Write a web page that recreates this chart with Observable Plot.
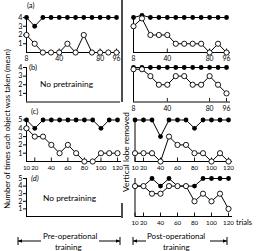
<!DOCTYPE html>
<html><head><meta charset="utf-8">
<script src="https://cdn.jsdelivr.net/npm/d3@7"></script>
<script src="https://cdn.jsdelivr.net/npm/@observablehq/plot@0.6"></script>
<style>
body{margin:0;background:#fff;}
#c{position:relative;width:256px;height:251px;overflow:hidden;font-family:Lato,"DejaVu Sans",sans-serif;color:#000;}
#c svg{position:absolute;left:0;top:0;overflow:visible;}
.t{position:absolute;font-size:7.5px;line-height:1;white-space:nowrap;}
</style></head><body><div id="c"></div>
<script>
// ---- data ----
const trialsAB = [8,16,24,32,40,48,56,64,72,80,88,96];
const trialsCD = [10,20,30,40,50,60,70,80,90,100,110,120];
const ticksAB = [8,40,80,96];
const ticksCD = [10,20,40,60,80,100,120];
const ticksY4 = [1,2,3,4];
const ticksY5 = [1,2,3,4,5];
const aPreFilled  = [4,3,4,4,4,4,4,4,4,4,4,4];
const aPreOpen    = [2,1,0,0,0,1,0,2,0,0,0,0];
const aPostFilled = [4,4.25,4,4,4,4,4,4,4,4,4,4];
const aPostOpen   = [3,3.9,2,2,2,1,1,1,1,0,1,0];
const bPostFilled = [4,4,4,4,4,4,4,4,4,4,4,4];
const bPostOpen   = [3.8,3.8,3,2,2,3,3,2,2,3,2,1];
const cPreFilled  = [5,4,5,5,5,5,5,5,5,4,5,5];
const cPreOpen    = [4,3,3,2,1,2,1,0,0,1,1,1];
const cPostFilled = [5,5,5,3,5,5,5,4,5,5,5,5];
const cPostOpen   = [1,1,1,0,3,2,2,1,1,0,1,0];
const dPostFilled = [4,4,5,4,5,4,4,4,5,5,5,5];
const dPostOpen   = [4,4,3,3,4,4,4,2,3,2,3,1];

const W = 256, H = 251;
const root = document.getElementById("c");
const font = {fontFamily:"Lato, 'DejaVu Sans', sans-serif", fontSize:"7px", color:"#000", background:"none", overflow:"visible"};

function panel(o) {
  const {px, py, xd, yd, xticks, yticks, trials, filled, open, xLabels, yLabels, xfs} = o;
  const marks = [];
  marks.push(Plot.ruleY([yd[0]], {stroke:"#000", strokeWidth:1, insetRight:-4}));
  marks.push(Plot.ruleX([xd[0]], {stroke:"#000", strokeWidth:1}));
  marks.push(Plot.ruleX(xticks, {stroke:"#000", strokeWidth:0.9, insetTop:(py[0]-py[1])-3.5}));
  if (xLabels) marks.push(Plot.axisX({ticks:xticks, tickSize:0, tickPadding:4, tickFormat:d=>String(d), label:null, fontSize:xfs}));
  if (yLabels) marks.push(Plot.axisY({ticks:yticks, tickSize:3, tickPadding:1, tickFormat:d=>String(d), label:null, fontSize:7.2}));
  if (filled) {
    const fd = trials.map((t,i)=>({t, v:filled[i]}));
    marks.push(Plot.line(fd, {x:"t", y:"v", stroke:"#000", strokeWidth:1}));
    marks.push(Plot.dot(fd, {x:"t", y:"v", r:2.4, fill:"#000", stroke:"none"}));
  }
  if (open) {
    const od = trials.map((t,i)=>({t, v:open[i]}));
    marks.push(Plot.line(od, {x:"t", y:"v", stroke:"#000", strokeWidth:1}));
    marks.push(Plot.dot(od, {x:"t", y:"v", r:2.6, fill:"#fff", stroke:"#000", strokeWidth:0.9}));
  }
  const svg = Plot.plot({
    width:W, height:H,
    marginLeft:px[0], marginRight:W-px[1], marginTop:py[1], marginBottom:H-py[0],
    x:{domain:xd, label:null, axis:null}, y:{domain:yd, label:null, axis:null},
    style:font,
    marks
  });
  root.appendChild(svg);
}

panel({px:[26,116], py:[52,17], xd:[8,96], yd:[0,4], xticks:ticksAB, yticks:ticksY4, trials:trialsAB, filled:aPreFilled, open:aPreOpen, xLabels:true, yLabels:true, xfs:6.8});
panel({px:[133,226], py:[52,17], xd:[8,96], yd:[0,4], xticks:ticksAB, yticks:ticksY4, trials:trialsAB, filled:aPostFilled, open:aPostOpen, xLabels:true, yLabels:false, xfs:6.8});
panel({px:[26,116], py:[101.5,67], xd:[8,96], yd:[0,4], xticks:[], yticks:ticksY4, trials:trialsAB, xLabels:false, yLabels:true});
panel({px:[133,226], py:[101.5,67], xd:[8,96], yd:[0,4], xticks:ticksAB, yticks:ticksY4, trials:trialsAB, filled:bPostFilled, open:bPostOpen, xLabels:true, yLabels:false, xfs:6.8});
panel({px:[26,117], py:[161,119.5], xd:[10,120], yd:[0,5], xticks:ticksCD, yticks:ticksY5, trials:trialsCD, filled:cPreFilled, open:cPreOpen, xLabels:true, yLabels:true, xfs:6.2});
panel({px:[134.5,228], py:[161,119.5], xd:[10,120], yd:[0,5], xticks:ticksCD, yticks:ticksY5, trials:trialsCD, filled:cPostFilled, open:cPostOpen, xLabels:true, yLabels:false, xfs:6.2});
panel({px:[26,117], py:[216,178], xd:[10,120], yd:[0,5], xticks:[], yticks:ticksY5, trials:trialsCD, xLabels:false, yLabels:true});
panel({px:[134.5,228], py:[216,178], xd:[10,120], yd:[0,5], xticks:ticksCD, yticks:ticksY5, trials:trialsCD, filled:dPostFilled, open:dPostOpen, xLabels:true, yLabels:false, xfs:6.2});

function label(txt, x, y, extra) {
  const d = document.createElement("div");
  d.className = "t";
  d.textContent = txt;
  d.style.left = x + "px"; d.style.top = y + "px";
  if (extra) Object.assign(d.style, extra);
  root.appendChild(d);
  return d;
}
label("(a)", 27, 2);
label("(b)", 29, 64);
label("(c)", 31, 108);
label("(d)", 31, 175, {fontStyle:"italic"});
label("No pretraining", 40, 80, {fontSize:"8.4px"});
label("No pretraining", 43, 194, {fontSize:"8.4px"});
label("trials", 236, 219);
label("Pre-operational", 43, 232, {fontSize:"8px"});
label("training", 55, 243, {fontSize:"8px"});
label("Post-operational", 147, 232, {fontSize:"8px"});
label("training", 163, 243, {fontSize:"8px"});
label("Number of times each object was taken (mean)", 8, 129, {transform:"translate(-50%,-50%) rotate(-90deg)", fontSize:"7.8px"});
label("Vertical lobe removed", 126, 152, {transform:"translate(-50%,-50%) rotate(-90deg)", fontSize:"8.4px"});

const deco = d3.create("svg").attr("width", W).attr("height", H);
deco.append("line").attr("x1",122).attr("x2",122).attr("y1",0).attr("y2",102).attr("stroke","#000").attr("stroke-width",1.4);
deco.append("line").attr("x1",122).attr("x2",122).attr("y1",203).attr("y2",218).attr("stroke","#000").attr("stroke-width",1.4);
const brackets = [[18,120,41,99],[133,227,146,210]];
for (const [a,b,c,e] of brackets) {
  const y = 241;
  deco.append("line").attr("x1",a).attr("x2",a).attr("y1",237).attr("y2",245).attr("stroke","#000");
  deco.append("line").attr("x1",b).attr("x2",b).attr("y1",237).attr("y2",245).attr("stroke","#000");
  deco.append("line").attr("x1",a).attr("x2",c).attr("y1",y).attr("y2",y).attr("stroke","#000");
  deco.append("line").attr("x1",e).attr("x2",b).attr("y1",y).attr("y2",y).attr("stroke","#000");
  deco.append("path").attr("d",`M${a},${y}l4,-1.8v3.6z`).attr("fill","#000");
  deco.append("path").attr("d",`M${b},${y}l-4,-1.8v3.6z`).attr("fill","#000");
}
root.appendChild(deco.node());
</script></body></html>
